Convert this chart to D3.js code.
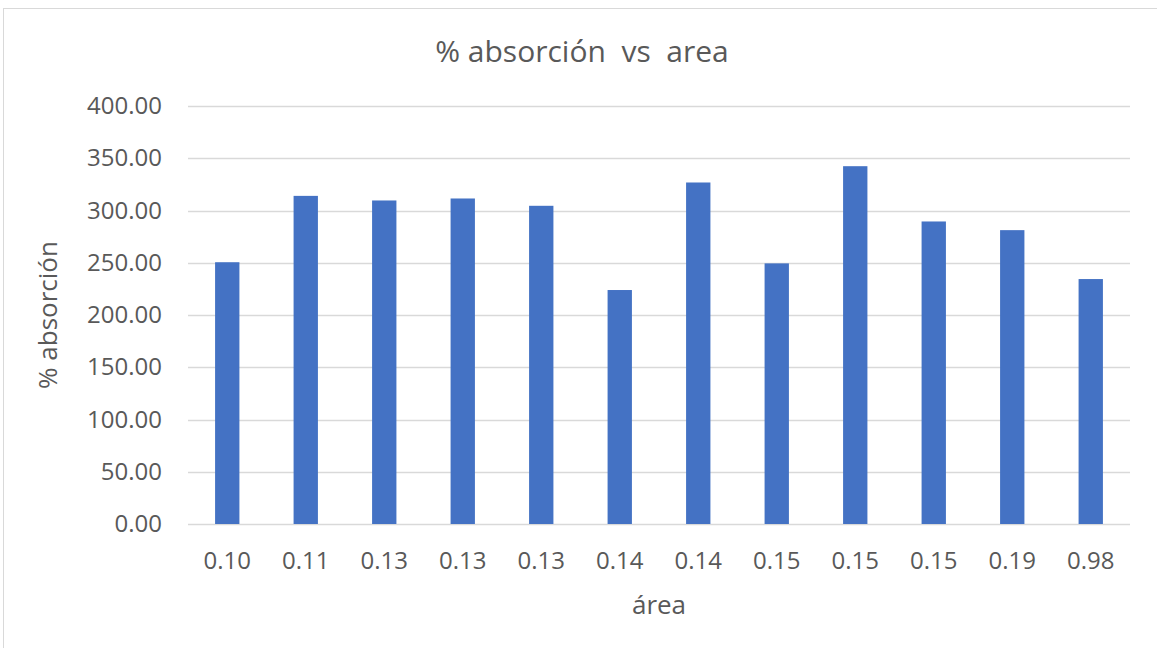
<!DOCTYPE html>
<html>
<head>
<meta charset="utf-8">
<script src="https://cdn.jsdelivr.net/npm/d3@7"></script>
<style>
  body { margin: 0; background: #fff; }
  svg text { font-family: "Open Sans", Lato, sans-serif; fill: #595959; }
</style>
</head>
<body>
<svg id="chart" width="1157" height="648"></svg>
<script>
var areas = ["0.10", "0.11", "0.13", "0.13", "0.13", "0.14", "0.14", "0.15", "0.15", "0.15", "0.19", "0.98"];
var absorcion = [250.5, 314.0, 309.6, 311.5, 304.5, 223.9, 326.8, 249.4, 342.4, 289.5, 281.2, 234.4];
var yTicks = [0, 50, 100, 150, 200, 250, 300, 350, 400];

var svg = d3.select("#chart"),
  margin = {top: 106, right: 27, bottom: 124, left: 188},
  width = +svg.attr("width") - margin.left - margin.right,
  height = +svg.attr("height") - margin.top - margin.bottom;

// outer chart border
svg.append("rect")
  .attr("x", 3.5).attr("y", 8.5)
  .attr("width", 1160).attr("height", 650)
  .attr("fill", "#fff")
  .attr("stroke", "#d9d9d9");

var data = areas.map(function(a, i) { return {key: i, label: a, value: absorcion[i]}; });

var x = d3.scaleBand()
  .domain(data.map(function(d) { return d.key; }))
  .range([0, width])
  .paddingInner(0.69)
  .paddingOuter(0.345);

var y = d3.scaleLinear()
  .domain([0, 400])
  .range([height, 0]);

var g = svg.append("g").attr("transform", "translate(" + margin.left + "," + margin.top + ")");

// gridlines
g.append("g")
  .selectAll("line")
  .data(yTicks)
  .enter().append("line")
  .attr("x1", 0).attr("x2", width)
  .attr("y1", function(d) { return Math.round(y(d)) + 0.5; })
  .attr("y2", function(d) { return Math.round(y(d)) + 0.5; })
  .attr("stroke", "#d9d9d9")
  .attr("stroke-width", 1.5);

// y axis labels
var yAxis = g.append("g")
  .call(d3.axisLeft(y).tickValues(yTicks).tickSize(0).tickPadding(26).tickFormat(d3.format(".2f")));
yAxis.select(".domain").remove();
yAxis.selectAll("text").style("font-size", "24px").attr("fill", "#595959");

// bars
g.append("g")
  .selectAll("rect")
  .data(data)
  .enter().append("rect")
  .attr("x", function(d) { return x(d.key); })
  .attr("y", function(d) { return y(d.value); })
  .attr("width", x.bandwidth())
  .attr("height", function(d) { return height - y(d.value); })
  .attr("fill", "#4472c4");

// x axis
var xAxis = g.append("g")
  .attr("transform", "translate(0," + height + ")")
  .call(d3.axisBottom(x).tickSize(0).tickPadding(28).tickFormat(function(k) { return areas[k]; }));
xAxis.select(".domain").remove();
xAxis.selectAll("text").style("font-size", "24px").attr("fill", "#595959");

// titles
svg.append("text")
  .attr("x", 582).attr("y", 62)
  .attr("text-anchor", "middle")
  .style("font-size", "30px")
  .style("white-space", "pre")
  .text("% absorción  vs  area");

svg.append("text")
  .attr("x", margin.left + width / 2).attr("y", 614)
  .attr("text-anchor", "middle")
  .style("font-size", "26px")
  .text("área");

svg.append("text")
  .attr("transform", "translate(57," + (margin.top + height / 2) + ") rotate(-90)")
  .attr("text-anchor", "middle")
  .style("font-size", "26px")
  .text("% absorción");
</script>
</body>
</html>
